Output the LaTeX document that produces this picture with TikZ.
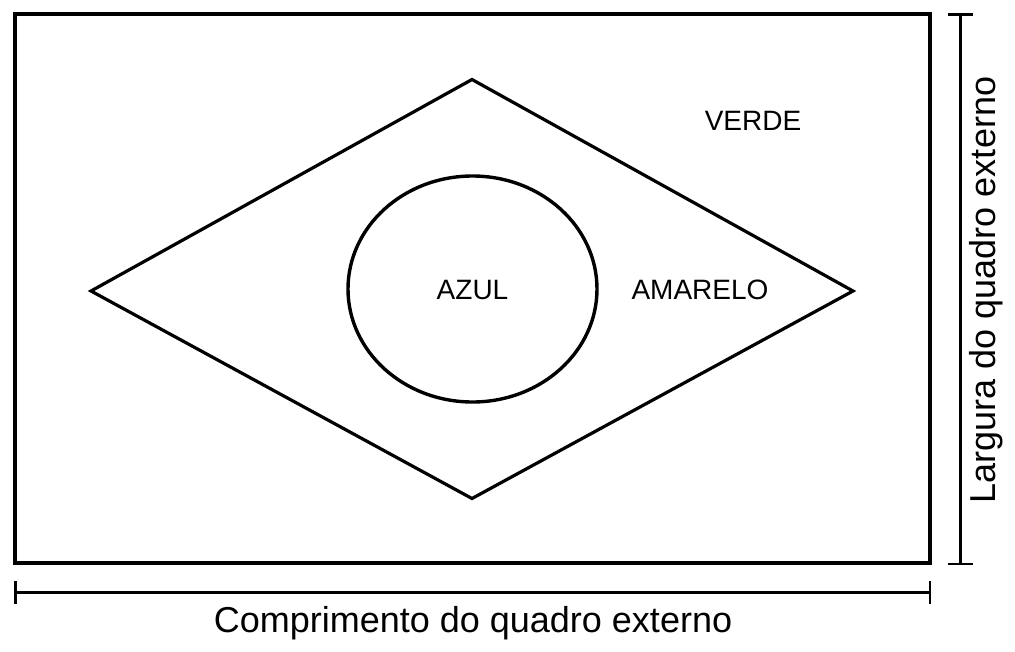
\documentclass[tikz,border=0pt]{standalone}
\usepackage{fontspec}
\setmainfont{Liberation Sans}
\usetikzlibrary{calc, positioning}
\tikzset{
  quadro/.style={line width=4pt, line join=miter},
  losango/.style={line width=3.2pt, line join=miter},
  circulo/.style={line width=3.4pt},
  cota/.style={line width=2.8pt},
  rotulo/.style={font=\fontsize{28}{30}\selectfont, inner sep=0pt, anchor=base},
  medida/.style={font=\fontsize{36}{40}\selectfont, inner sep=0pt, anchor=base},
}

\begin{document}
\begin{tikzpicture}[x=1pt, y=-1pt]
			\useasboundingbox (0,0) rectangle (1015,651);
			\coordinate (qa) at (15,14);
			\coordinate (qb) at (930,563);
			\draw [quadro] (qa) rectangle (qb);
			\coordinate (le) at (91,291);
			\coordinate (lt) at (472,79.5);
			\coordinate (ld) at (853,291);
			\coordinate (lb) at (472,498.5);
			\draw [losango] (le) -- (lt) -- (ld) -- (lb) -- cycle;
			\coordinate (ce) at (472.5,289);
			\draw [circulo] (ce) ellipse [x radius=124.5pt, y radius=113pt];
			\node [rotulo] (verde) at (753,130) {VERDE};
			\node [rotulo] (azul) at (472.5,299) {AZUL};
			\node [rotulo] (amarelo) at (700,299) {AMARELO};
			% cota horizontal
			\coordinate (ha) at (15.5,592.7);
			\coordinate (hb) at (930,592.7);
			\draw [cota] (ha) -- (hb);
			\draw [cota] ($(ha)+(0,-11.5)$) -- ($(ha)+(0,11.5)$);
			\draw [cota] ($(hb)+(0,-11.5)$) -- ($(hb)+(0,11.5)$);
			\node [medida] (comprimento) at (473,632) {Comprimento do quadro externo};
			% cota vertical
			\coordinate (va) at (960.5,14.5);
			\coordinate (vb) at (960.5,564);
			\draw [cota] (va) -- (vb);
			\draw [cota] ($(va)+(-12.5,0)$) -- ($(va)+(12.5,0)$);
			\draw [cota] ($(vb)+(-12.5,0)$) -- ($(vb)+(12.5,0)$);
			\node [medida, rotate=90] (largura) at (995,290) {Largura do quadro externo};
		\end{tikzpicture}
\end{document}
